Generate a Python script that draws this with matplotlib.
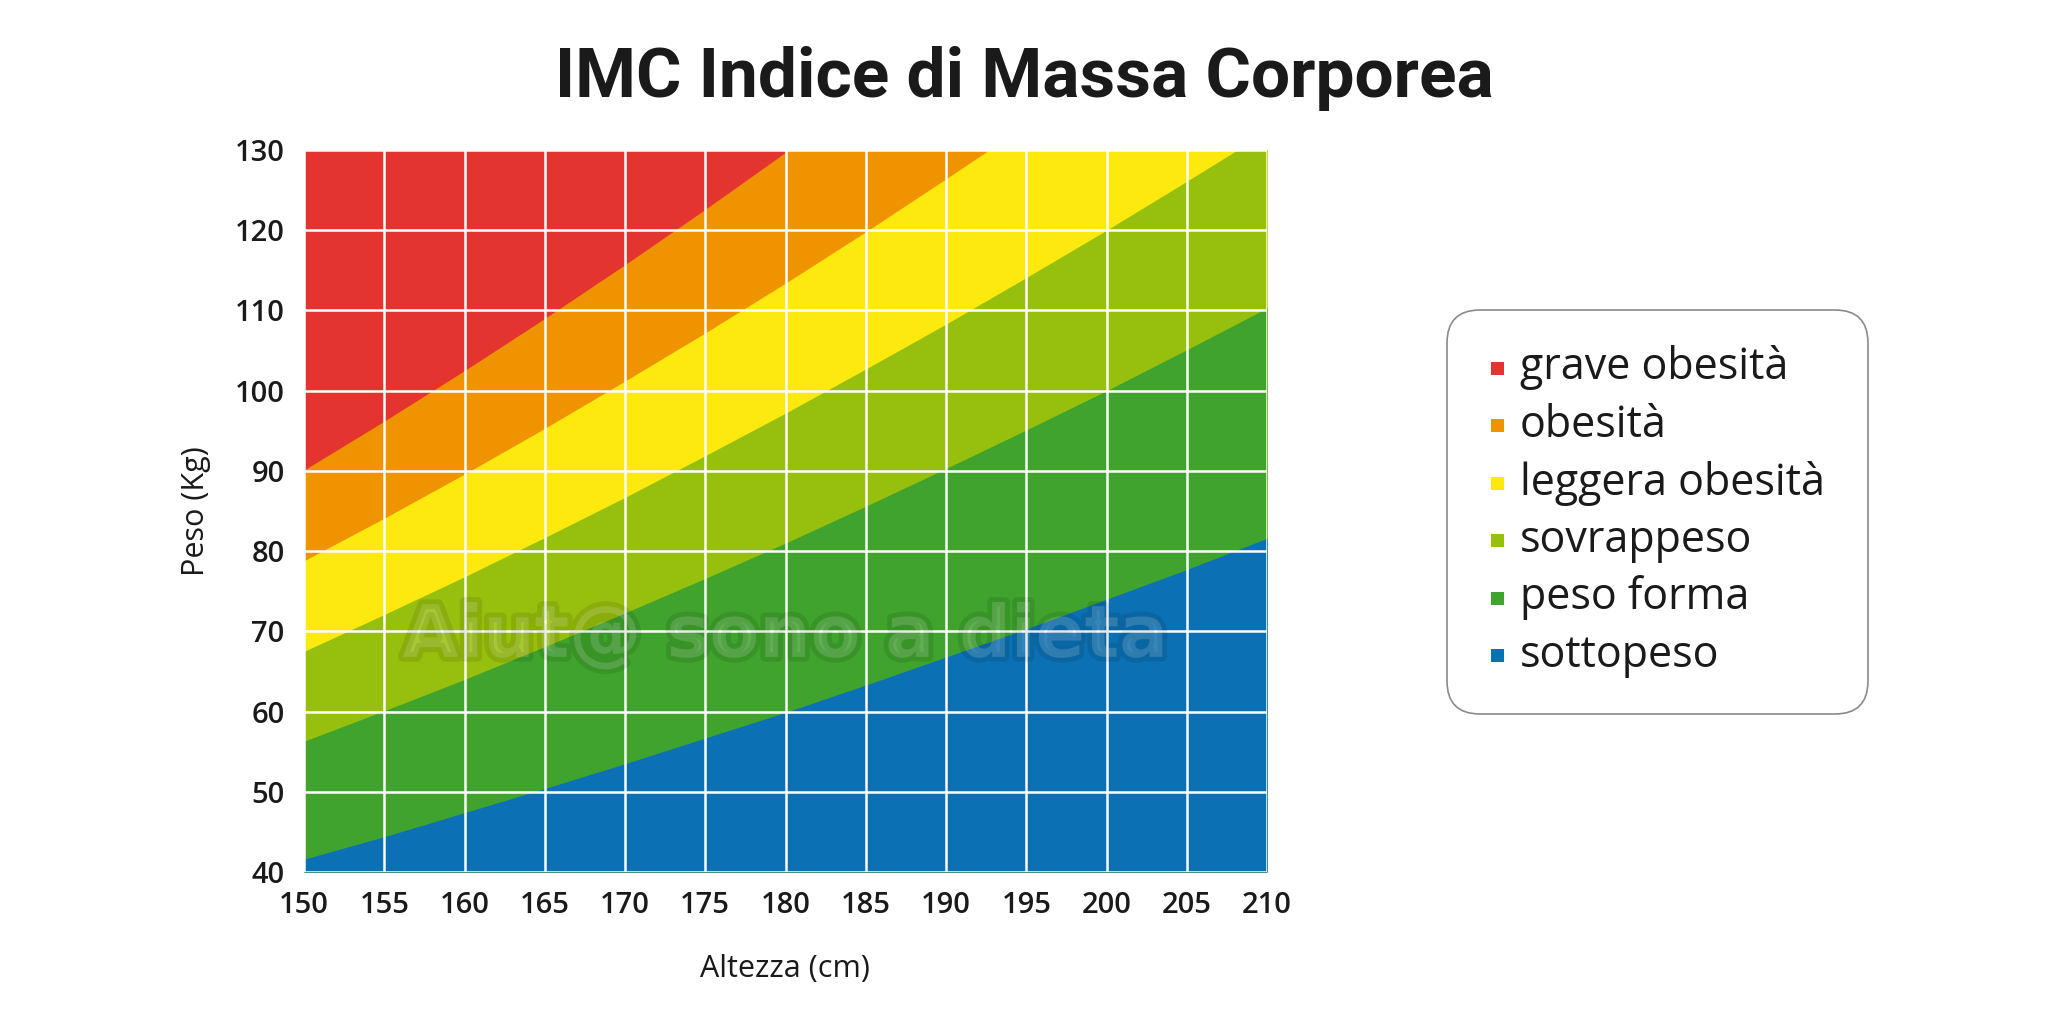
import matplotlib.pyplot as plt
from matplotlib.patches import FancyBboxPatch, Rectangle
import matplotlib.patheffects as pe

# altezza in cm, peso in kg
altezze = [150, 155, 160, 165, 170, 175, 180, 185, 190, 195, 200, 205, 210]

# limiti tra le fasce (peso a ogni altezza)
limite_sotto = [41.6, 44.4, 47.4, 50.4, 53.5, 56.7, 59.9, 63.3, 66.8, 70.3, 74.0, 77.7, 81.6]
limite_forma = [56.3, 60.1, 64.0, 68.1, 72.3, 76.6, 81.0, 85.6, 90.3, 95.1, 100.0, 105.1, 110.3]
limite_sovrappeso = [67.5, 72.1, 76.8, 81.7, 86.7, 91.9, 97.2, 102.7, 108.3, 114.1, 120.0, 126.1, 132.3]
limite_leggera = [78.8, 84.1, 89.6, 95.3, 101.2, 107.2, 113.4, 119.8, 126.4, 133.1, 140.0, 147.1, 154.4]
limite_obesita = [90.0, 96.1, 102.4, 108.9, 115.6, 122.5, 129.6, 136.9, 144.4, 152.1, 160.0, 168.1, 176.4]

categorie = ["grave obesità", "obesità", "leggera obesità", "sovrappeso", "peso forma", "sottopeso"]
colori = ["#E3342F", "#F09300", "#FDE90D", "#97BF0D", "#3FA32D", "#0B71B4"]

tick_x = [150, 155, 160, 165, 170, 175, 180, 185, 190, 195, 200, 205, 210]
tick_y = [40, 50, 60, 70, 80, 90, 100, 110, 120, 130]
y_min, y_max = 40, 130

plt.rcParams['font.family'] = ['Open Sans', 'DejaVu Sans']

fig = plt.figure(figsize=(20.48, 10.24), dpi=100)
ax = fig.add_axes([304 / 2048, 152 / 1024, 963 / 2048, 722 / 1024])

# ogni fascia va dal fondo al suo limite superiore, si disegna dall'alto verso il basso
# (cosi' non restano righe chiare tra una fascia e l'altra)
superiori = [[y_max + 100] * len(altezze), limite_obesita, limite_leggera,
             limite_sovrappeso, limite_forma, limite_sotto]
for sup, col in zip(superiori, colori):
    ax.fill_between(altezze, y_min, sup, color=col, lw=0, zorder=1)

ax.set_xlim(150, 210)
ax.set_ylim(y_min, y_max)
ax.set_xticks(tick_x)
ax.set_yticks(tick_y)
ax.grid(True, color="white", lw=1.8, zorder=2)
ax.set_axisbelow(False)
for s in ax.spines.values():
    s.set_visible(False)
ax.tick_params(length=0, labelsize=21, pad=14, colors="#1a1a1a")
for lab in ax.get_xticklabels() + ax.get_yticklabels():
    lab.set_fontweight("semibold")

# filigrana
ax.text(0.5, 0.325, "Aiut@ sono a dieta", transform=ax.transAxes, ha="center", va="center",
        fontsize=52, fontweight="bold", family=["DejaVu Sans"], color="white", alpha=0.08,
        zorder=3,
        path_effects=[pe.withStroke(linewidth=7, foreground="black", alpha=0.09)])

fig.text(0.5, 0.923, "IMC Indice di Massa Corporea", ha="center", va="center",
         fontsize=50, fontweight="bold", family=["Roboto", "DejaVu Sans"], color="#1a1a1a")
fig.text(785 / 2048, 0.054, "Altezza (cm)", ha="center", va="center", fontsize=22, color="#1a1a1a")
fig.text(196 / 2048, 0.501, "Peso (Kg)", ha="center", va="center", rotation=90, fontsize=22,
         color="#1a1a1a")

# legenda a mano con bordo arrotondato (coordinate in pollici)
box = FancyBboxPatch((14.47 + 0.33, 3.10 + 0.33), 4.21 - 0.66, 4.04 - 0.66,
                     boxstyle="round,pad=0.33", transform=fig.dpi_scale_trans,
                     fc="white", ec="#8a8a8a", lw=1.2)
fig.patches.append(box)
riga_y = 10.24 - 3.68
for nome, col in zip(categorie, colori):
    fig.patches.append(Rectangle((14.91, riga_y - 0.065), 0.13, 0.13, transform=fig.dpi_scale_trans,
                                 fc=col, ec="none"))
    fig.text(15.20, riga_y, nome, transform=fig.dpi_scale_trans, ha="left", va="center",
             fontsize=31, color="#1a1a1a")
    riga_y -= 0.575

fig.savefig("out.png", dpi=100)
